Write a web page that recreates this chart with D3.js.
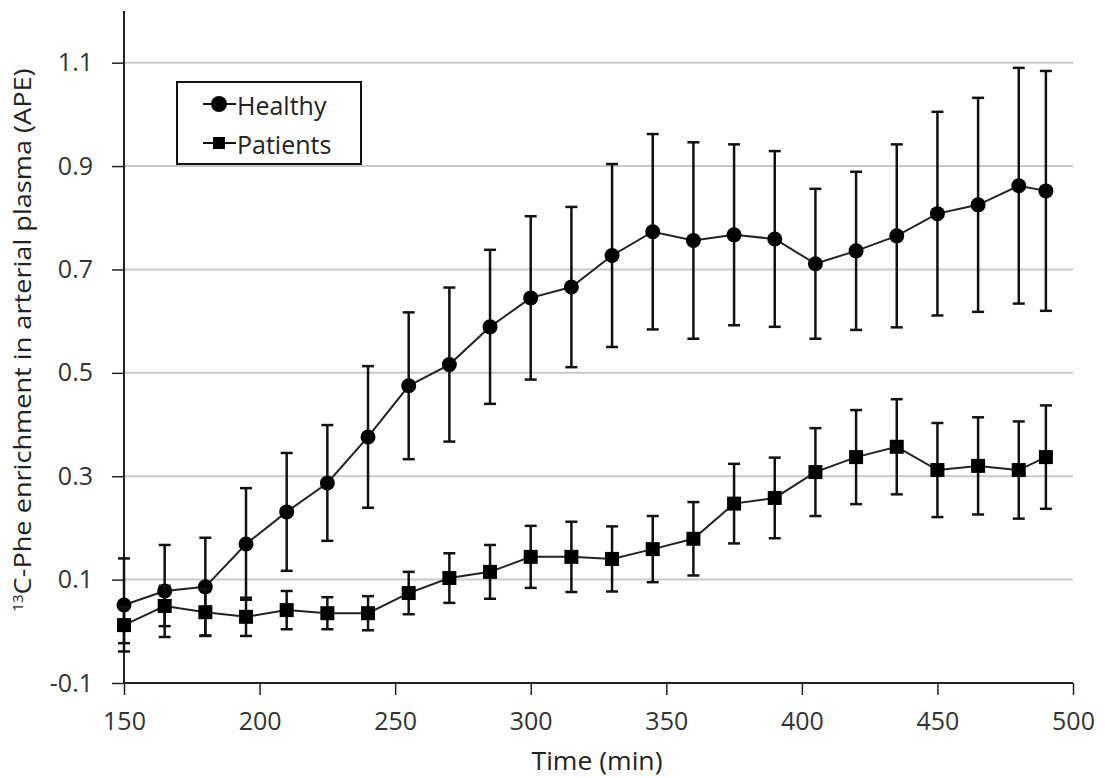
<!DOCTYPE html>
<html><head><meta charset="utf-8">
<script src="https://cdn.jsdelivr.net/npm/d3@7"></script>
<style>body{margin:0;background:#fff}svg{display:block}</style>
</head><body>
<svg id="c" width="1105" height="778"></svg>
<script>
const times = [150,165,180,195,210,225,240,255,270,285,300,315,330,345,360,375,390,405,420,435,450,465,480,490];
const healthy = [0.051,0.078,0.086,0.169,0.231,0.287,0.376,0.475,0.516,0.589,0.645,0.666,0.727,0.773,0.756,0.767,0.759,0.711,0.736,0.765,0.808,0.825,0.862,0.852];
const healthyErr = [0.09,0.089,0.095,0.108,0.114,0.112,0.137,0.142,0.149,0.149,0.158,0.155,0.177,0.189,0.19,0.175,0.17,0.145,0.153,0.177,0.197,0.207,0.228,0.232];
const patients = [0.012,0.049,0.037,0.028,0.041,0.035,0.035,0.074,0.103,0.115,0.144,0.144,0.14,0.159,0.179,0.247,0.258,0.308,0.337,0.357,0.312,0.32,0.312,0.337];
const patientsErr = [0.035,0.039,0.045,0.037,0.037,0.031,0.033,0.041,0.048,0.052,0.06,0.068,0.063,0.064,0.071,0.077,0.078,0.085,0.091,0.092,0.091,0.094,0.094,0.1];
const xTicks = [150,200,250,300,350,400,450,500];
const yTicks = [-0.1,0.1,0.3,0.5,0.7,0.9,1.1];
const yTickLabels = ["-0.1","0.1","0.3","0.5","0.7","0.9","1.1"];
const seriesNames = ["Healthy","Patients"];

const svg = d3.select("#c");
const x = d3.scaleLinear().domain([150,500]).range([124,1073]);
const y = d3.scaleLinear().domain([-0.1,1.2]).range([683,11]);
const font = "'Open Sans', 'DejaVu Sans', sans-serif";

// gridlines
svg.append("g").selectAll("line").data(yTicks.filter(d=>d>-0.1)).join("line")
  .attr("x1",x(150)).attr("x2",x(500)).attr("y1",d=>y(d)).attr("y2",d=>y(d))
  .attr("stroke","#c9c9c9").attr("stroke-width",2);

// axes
const xAxis = svg.append("g").attr("transform",`translate(0,${y(-0.1)})`)
  .call(d3.axisBottom(x).tickValues(xTicks).tickSize(12).tickPadding(17).tickFormat(d3.format("d")));
const yAxis = svg.append("g").attr("transform",`translate(${x(150)},0)`)
  .call(d3.axisLeft(y).tickValues(yTicks).tickSize(12).tickPadding(19).tickFormat((d,i)=>yTickLabels[i]));
[xAxis,yAxis].forEach(g=>{
  g.select(".domain").attr("stroke","#222").attr("stroke-width",2);
  g.selectAll(".tick line").attr("stroke","#222").attr("stroke-width",1.5);
  g.selectAll(".tick text").attr("fill","#333").style("font-family",font).style("font-size","25px");
});
xAxis.select(".domain").attr("d",`M${x(150)},0H${x(500)}`);
yAxis.select(".domain").attr("d",`M0,${y(-0.1)}V${y(1.2)}`);

// titles
svg.append("text").attr("x",597).attr("y",770).attr("text-anchor","middle")
  .attr("textLength",131).attr("lengthAdjust","spacingAndGlyphs")
  .style("font-family",font).style("font-size","26px").attr("fill","#222").text("Time (min)");
const yt = svg.append("text").attr("transform","translate(31,340) rotate(-90)").attr("text-anchor","middle")
  .style("font-family",font).style("font-size","24px").attr("fill","#222");
yt.append("tspan").style("font-size","15px").attr("dy","-8").text("13");
yt.append("tspan").attr("dy","8").attr("textLength",526).attr("lengthAdjust","spacingAndGlyphs")
  .text("C-Phe enrichment in arterial plasma (APE)");

function drawSeries(vals, errs, shape){
  const g = svg.append("g");
  const pts = times.map((t,i)=>({t, v:vals[i], e:errs[i]}));
  const eb = g.append("g").selectAll("g").data(pts).join("g");
  eb.append("line").attr("x1",d=>x(d.t)).attr("x2",d=>x(d.t)).attr("y1",d=>y(d.v-d.e)).attr("y2",d=>y(d.v+d.e))
    .attr("stroke","#111").attr("stroke-width",2.5);
  eb.append("line").attr("x1",d=>x(d.t)-6).attr("x2",d=>x(d.t)+6).attr("y1",d=>y(d.v+d.e)).attr("y2",d=>y(d.v+d.e))
    .attr("stroke","#111").attr("stroke-width",2.5);
  eb.append("line").attr("x1",d=>x(d.t)-6).attr("x2",d=>x(d.t)+6).attr("y1",d=>y(d.v-d.e)).attr("y2",d=>y(d.v-d.e))
    .attr("stroke","#111").attr("stroke-width",2.5);
  g.append("path").datum(pts).attr("fill","none").attr("stroke","#222").attr("stroke-width",2)
    .attr("d",d3.line().x(d=>x(d.t)).y(d=>y(d.v)));
  if(shape==="circle"){
    g.append("g").selectAll("circle").data(pts).join("circle")
      .attr("cx",d=>x(d.t)).attr("cy",d=>y(d.v)).attr("r",7.5).attr("fill","#000");
  } else {
    g.append("g").selectAll("rect").data(pts).join("rect")
      .attr("x",d=>x(d.t)-7).attr("y",d=>y(d.v)-7).attr("width",14).attr("height",14).attr("fill","#000");
  }
}
drawSeries(healthy, healthyErr, "circle");
drawSeries(patients, patientsErr, "square");

// legend
const lg = svg.append("g");
lg.append("rect").attr("x",177).attr("y",82).attr("width",184).attr("height",82)
  .attr("fill","#fff").attr("stroke","#111").attr("stroke-width",2);
seriesNames.forEach((n,i)=>{
  const cy = 104 + i*39;
  lg.append("line").attr("x1",203).attr("x2",236).attr("y1",cy).attr("y2",cy).attr("stroke","#111").attr("stroke-width",2);
  if(i===0) lg.append("circle").attr("cx",219).attr("cy",cy).attr("r",8).attr("fill","#000");
  else lg.append("rect").attr("x",213).attr("y",cy-6).attr("width",12).attr("height",12).attr("fill","#000");
  lg.append("text").attr("x",237).attr("y",cy+11).style("font-family",font).style("font-size","25px")
    .attr("fill","#222").text(n);
});
</script>
</body></html>
